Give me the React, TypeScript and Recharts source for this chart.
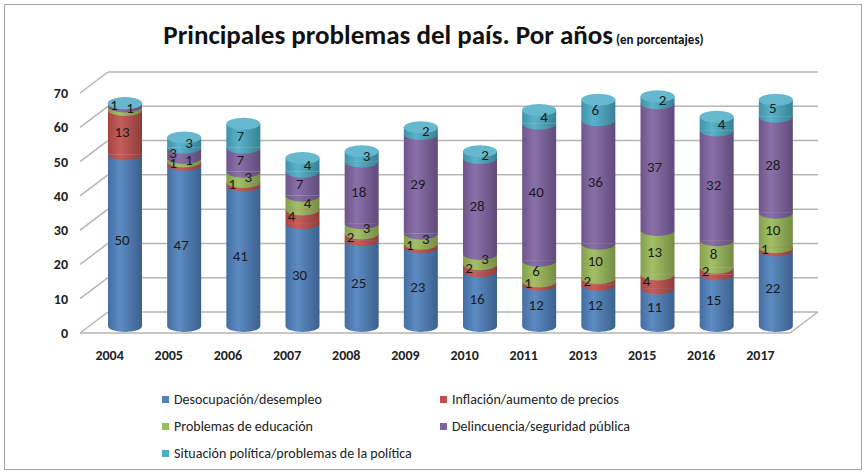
import React from "react";
import { BarChart, Bar, XAxis, YAxis, CartesianGrid, LabelList } from "recharts";

const years = ["2004", "2005", "2006", "2007", "2008", "2009", "2010", "2011", "2013", "2015", "2016", "2017"];
const desocupacion = [50, 47, 41, 30, 25, 23, 16, 12, 12, 11, 15, 22];
const inflacion = [13, 1, 1, 4, 2, 1, 2, 1, 2, 4, 2, 1];
const educacion = [1, 1, 3, 4, 3, 3, 3, 6, 10, 13, 8, 10];
const delincuencia = [1, 3, 7, 7, 18, 29, 28, 40, 36, 37, 32, 28];
const situacion = [null, 3, 7, 4, 3, 2, 2, 4, 6, 2, 4, 5];

const seriesNames = [
  "Desocupación/desempleo",
  "Inflación/aumento de precios",
  "Problemas de educación",
  "Delincuencia/seguridad pública",
  "Situación política/problemas de la política",
];
const seriesKeys = ["deso", "infl", "educ", "delin", "situ"];
const seriesColors = ["#4F81BD", "#C0504D", "#9BBB59", "#8064A2", "#4BACC6"];
const yTicks = [0, 10, 20, 30, 40, 50, 60, 70];

const data = years.map((year, i) => ({
  year,
  deso: desocupacion[i],
  infl: inflacion[i],
  educ: educacion[i],
  delin: delincuencia[i],
  situ: situacion[i],
}));

// 3D look: back wall offset and bar offset
const DX = 28;
const DY = -21;
const BX = 15;
const BY = -7;
const FONT = "Carlito, Lato, 'Liberation Sans', sans-serif";

function shade(hex: string, f: number) {
  const n = parseInt(hex.slice(1), 16);
  const c = [(n >> 16) & 255, (n >> 8) & 255, n & 255].map((v) =>
    f > 0 ? Math.round(v + (255 - v) * f) : Math.round(v * (1 + f))
  );
  return `rgb(${c[0]},${c[1]},${c[2]})`;
}

const cylinder = (idx: number) => (props: any) => {
  const { x, y, width, height, payload } = props;
  if (height == null || !width) return <g />;
  const isTop = seriesKeys.slice(idx + 1).every((k) => !payload[k]);
  const X = x + BX;
  const Y = y + BY;
  const rx = width / 2;
  const ry = 6;
  const cx = X + rx;
  const bottom = Y + height;
  return (
    <g>
      <rect x={X} y={Y} width={width} height={height} fill={`url(#cyl-${idx})`} />
      <path
        d={`M${X},${bottom} A${rx},${ry} 0 0 0 ${X + width},${bottom} Z`}
        fill={`url(#cyl-${idx})`}
      />
      {isTop && <ellipse cx={cx} cy={Y} rx={rx} ry={ry} fill={shade(seriesColors[idx], 0.15)} />}
    </g>
  );
};

// thin segments: push labels sideways (alternating) so they don't pile up
const segLabel = (idx: number) => (props: any) => {
  const vb = props.viewBox || props;
  const { x, y, width, height } = vb;
  const value = props.value;
  if (value == null || x == null) return null;
  const nudge = Math.abs(height) < 15 ? (idx % 2 ? -8 : 8) : 0;
  return (
    <text
      x={x + width / 2 + BX - 3 + nudge}
      y={y + height / 2 + BY}
      textAnchor="middle"
      dominantBaseline="central"
      fontSize={15}
      fontFamily={FONT}
      fill="#1a1a1a"
    >
      {value}
    </text>
  );
};

const gridLine = (props: any) => {
  const { x1, y1, x2, index } = props;
  const stroke = "#b5b5b5";
  return (
    <g key={`g-${index}-${y1}`}>
      <line x1={x1} y1={y1} x2={x1 + DX} y2={y1 + DY} stroke={stroke} strokeWidth={1.5} />
      <line x1={x1 + DX} y1={y1 + DY} x2={x2 + DX} y2={y1 + DY} stroke={stroke} strokeWidth={1.5} />
      {index === 0 && (
        <>
          <line x1={x1} y1={y1} x2={x2} y2={y1} stroke={stroke} strokeWidth={1.5} />
          <line x1={x2} y1={y1} x2={x2 + DX} y2={y1 + DY} stroke={stroke} strokeWidth={1.5} />
        </>
      )}
    </g>
  );
};

export default function App() {
  return (
    <div style={{ position: "absolute", left: 0, top: 0, width: 867, height: 474, background: "#fff" }}>
      <div
        style={{
          position: "absolute",
          left: 4,
          top: 4,
          width: 856,
          height: 464,
          border: "1px solid #a6a6a6",
        }}
      />
      <div
        style={{
          position: "absolute",
          top: 18,
          left: 0,
          width: 867,
          textAlign: "center",
          fontFamily: FONT,
          color: "#111",
        }}
      >
        <span style={{ fontSize: 27, fontWeight: 700 }}>Principales problemas del país. Por años</span>
        <span style={{ fontSize: 13, fontWeight: 700 }}> (en porcentajes)</span>
      </div>
      <div style={{ position: "absolute", left: 0, top: 0 }}>
        <BarChart
          width={867}
          height={474}
          data={data}
          margin={{ top: 93, right: 77, bottom: 111, left: 40 }}
          barSize={34}
        >
          <defs>
            {seriesColors.map((c, i) => (
              <linearGradient key={c} id={`cyl-${i}`} x1="0" y1="0" x2="1" y2="0">
                <stop offset="0%" stopColor={shade(c, -0.15)} />
                <stop offset="35%" stopColor={shade(c, 0.08)} />
                <stop offset="100%" stopColor={shade(c, -0.25)} />
              </linearGradient>
            ))}
          </defs>
          <CartesianGrid vertical={false} horizontal={gridLine} />
          <XAxis
            dataKey="year"
            axisLine={false}
            tickLine={false}
            tickSize={0}
            tickMargin={17}
            height={30}
            interval={0}
            tick={{ fontSize: 14, fontWeight: 700, fill: "#222", fontFamily: FONT }}
          />
          <YAxis
            domain={[0, 70]}
            ticks={yTicks}
            axisLine={false}
            tickLine={false}
            tickSize={0}
            tickMargin={12}
            width={40}
            tick={{ fontSize: 14, fontWeight: 700, fill: "#222", fontFamily: FONT }}
          />
          {seriesKeys.map((k, i) => (
            <Bar
              key={k}
              dataKey={k}
              stackId="a"
              fill={seriesColors[i]}
              shape={cylinder(i)}
              isAnimationActive={false}
            >
              <LabelList dataKey={k} content={segLabel(i)} />
            </Bar>
          ))}
        </BarChart>
      </div>
      <div
        style={{
          position: "absolute",
          left: 162,
          top: 390,
          display: "grid",
          gridTemplateColumns: "278px 300px",
          rowGap: 9,
          fontFamily: FONT,
          fontSize: 14,
          color: "#222",
        }}
      >
        {seriesNames.map((name, i) => (
          <div key={name} style={{ display: "flex", alignItems: "center", height: 18 }}>
            <span
              style={{
                display: "inline-block",
                width: 7,
                height: 7,
                background: seriesColors[i],
                marginRight: 5,
              }}
            />
            {name}
          </div>
        ))}
      </div>
    </div>
  );
}
